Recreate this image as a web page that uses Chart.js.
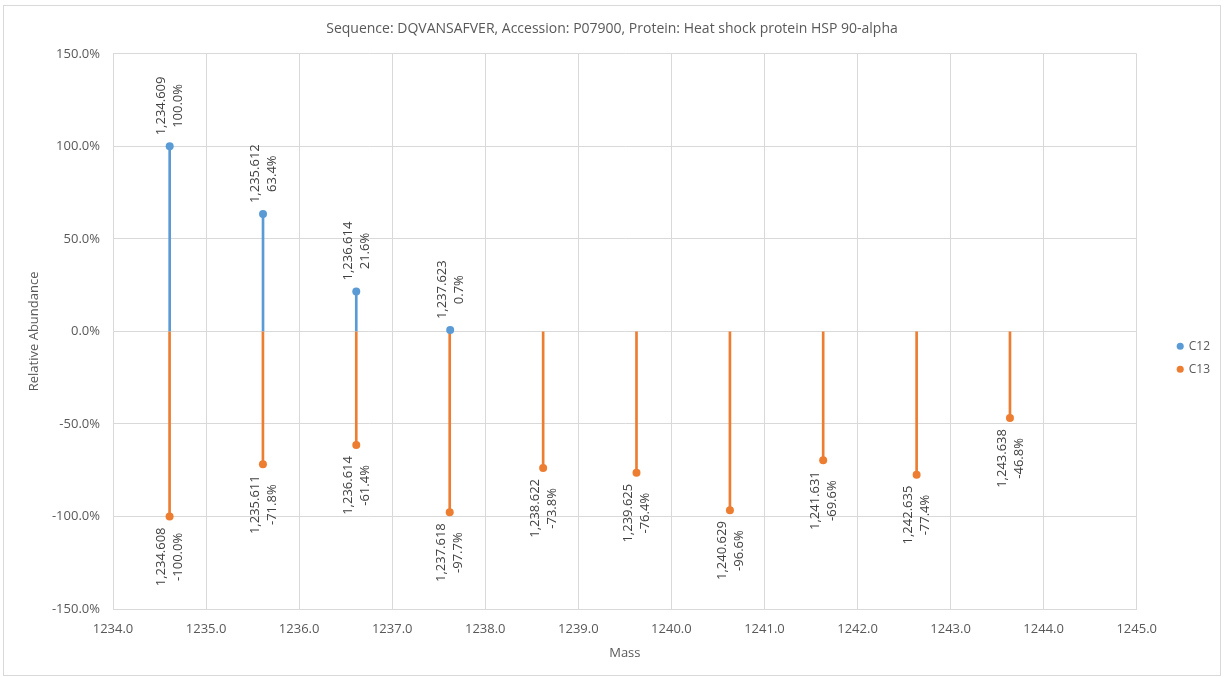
<!DOCTYPE html>
<html>
<head>
<meta charset="utf-8">
<title>Isotope distribution</title>
<script src="https://cdn.jsdelivr.net/npm/chart.js@4/dist/chart.umd.min.js"></script>
<style>
  html, body { margin: 0; padding: 0; background: #fff; }
  #wrap {
    position: absolute;
    left: 3px;
    top: 5px;
    width: 1216px;
    height: 669px;
    border: 1px solid #d9d9d9;
  }
</style>
</head>
<body>
<div id="wrap"><canvas id="isotopeChart" width="1216" height="669"></canvas></div>
<script>
const chartTitle = "Sequence: DQVANSAFVER, Accession: P07900, Protein: Heat shock protein HSP 90-alpha";

// C12 peaks (mass, relative abundance %)
const c12Mass = [1234.609, 1235.612, 1236.614, 1237.623];
const c12Abundance = [100.0, 63.4, 21.6, 0.7];

// C13 peaks, plotted downwards
const c13Mass = [1234.608, 1235.611, 1236.614, 1237.618, 1238.622, 1239.625, 1240.629, 1241.631, 1242.635, 1243.638];
const c13Abundance = [-100.0, -71.8, -61.4, -97.7, -73.8, -76.4, -96.6, -69.6, -77.4, -46.8];

const massMin = 1234.0, massMax = 1245.0, massStep = 1.0;
const abundanceMin = -150, abundanceMax = 150, abundanceStep = 50;

const blue = "#5b9bd5";
const orange = "#ed7d31";
const gridColor = "#d9d9d9";
const textColor = "#595959";
const fontFamily = "'Open Sans', 'Noto Sans', sans-serif";

function toPoints(xs, ys) {
  return xs.map((x, i) => ({ x: x, y: ys[i] }));
}

// rotated two-line labels: mass and abundance
const peakLabels = {
  id: "peakLabels",
  afterDatasetsDraw(chart) {
    const ctx = chart.ctx;
    ctx.save();
    ctx.font = "13px " + fontFamily;
    ctx.fillStyle = "#404040";
    ctx.textAlign = "center";
    ctx.textBaseline = "middle";
    chart.data.datasets.forEach((ds, i) => {
      if (ds.type !== "scatter") return;
      const meta = chart.getDatasetMeta(i);
      meta.data.forEach((pt, j) => {
        const d = ds.data[j];
        const line1 = d.x.toLocaleString("en-US", { minimumFractionDigits: 3, maximumFractionDigits: 3 });
        const line2 = d.y.toFixed(1) + "%";
        const w = Math.max(ctx.measureText(line1).width, ctx.measureText(line2).width);
        const gap = 11;
        const along = d.y >= 0 ? gap + w / 2 : -(gap + w / 2);
        ctx.save();
        ctx.translate(pt.x, pt.y);
        ctx.rotate(-Math.PI / 2);
        ctx.fillText(line1, along, -8);
        ctx.fillText(line2, along, 9);
        ctx.restore();
      });
    });
    ctx.restore();
  }
};

const ctx = document.getElementById("isotopeChart").getContext("2d");

new Chart(ctx, {
  type: "bar",
  data: {
    datasets: [
      {
        type: "scatter",
        label: "C12",
        data: toPoints(c12Mass, c12Abundance),
        backgroundColor: blue,
        borderColor: blue,
        pointRadius: 4,
        pointBorderWidth: 0,
        order: 0
      },
      {
        type: "scatter",
        label: "C13",
        data: toPoints(c13Mass, c13Abundance),
        backgroundColor: orange,
        borderColor: orange,
        pointRadius: 4,
        pointBorderWidth: 0,
        order: 0
      },
      {
        label: "C12 stem",
        data: toPoints(c12Mass, c12Abundance),
        backgroundColor: blue,
        barThickness: 2,
        grouped: false,
        order: 1
      },
      {
        label: "C13 stem",
        data: toPoints(c13Mass, c13Abundance),
        backgroundColor: orange,
        barThickness: 2,
        grouped: false,
        order: 1
      }
    ]
  },
  options: {
    responsive: false,
    animation: false,
    layout: { padding: { top: 0, right: 0, bottom: 0, left: 0 } },
    plugins: {
      title: {
        display: true,
        text: chartTitle,
        color: textColor,
        font: { family: fontFamily, size: 14, weight: "normal" },
        padding: { top: 15, bottom: 16 }
      },
      legend: {
        position: "right",
        align: "center",
        // empty title only pushes the two items a bit lower
        title: { display: true, text: "", font: { size: 12 }, padding: { top: 0, bottom: 20 } },
        labels: {
          filter: (item) => item.text === "C12" || item.text === "C13",
          usePointStyle: true,
          pointStyle: "circle",
          boxWidth: 5,
          boxHeight: 5,
          padding: 11,
          color: textColor,
          font: { family: fontFamily, size: 12 }
        }
      },
      tooltip: { enabled: false }
    },
    scales: {
      x: {
        type: "linear",
        offset: false,
        min: massMin,
        max: massMax,
        grid: { color: gridColor, drawTicks: false, offset: false },
        border: { color: gridColor },
        ticks: {
          stepSize: massStep,
          color: textColor,
          padding: 12,
          maxRotation: 0,
          font: { family: fontFamily, size: 13 },
          callback: (v) => v.toFixed(1)
        },
        title: {
          display: true,
          text: "Mass",
          color: textColor,
          font: { family: fontFamily, size: 13 },
          padding: { top: 0, bottom: 14 }
        },
        afterFit: (s) => { s.height = 66; }
      },
      y: {
        min: abundanceMin,
        max: abundanceMax,
        grid: { color: gridColor, drawTicks: false },
        border: { color: gridColor },
        ticks: {
          stepSize: abundanceStep,
          color: textColor,
          padding: 13,
          font: { family: fontFamily, size: 13 },
          callback: (v) => v.toFixed(1) + "%"
        },
        title: {
          display: true,
          text: "Relative Abundance",
          color: textColor,
          font: { family: fontFamily, size: 13 },
          padding: { top: 22, bottom: 0 }
        },
        afterFit: (s) => { s.width = 109; }
      },
      legendGap: {
        position: "right",
        display: true,
        grid: { display: false },
        border: { display: false },
        ticks: { display: false },
        afterFit: (s) => { s.width = 30; }
      }
    }
  },
  plugins: [peakLabels]
});
</script>
</body>
</html>
